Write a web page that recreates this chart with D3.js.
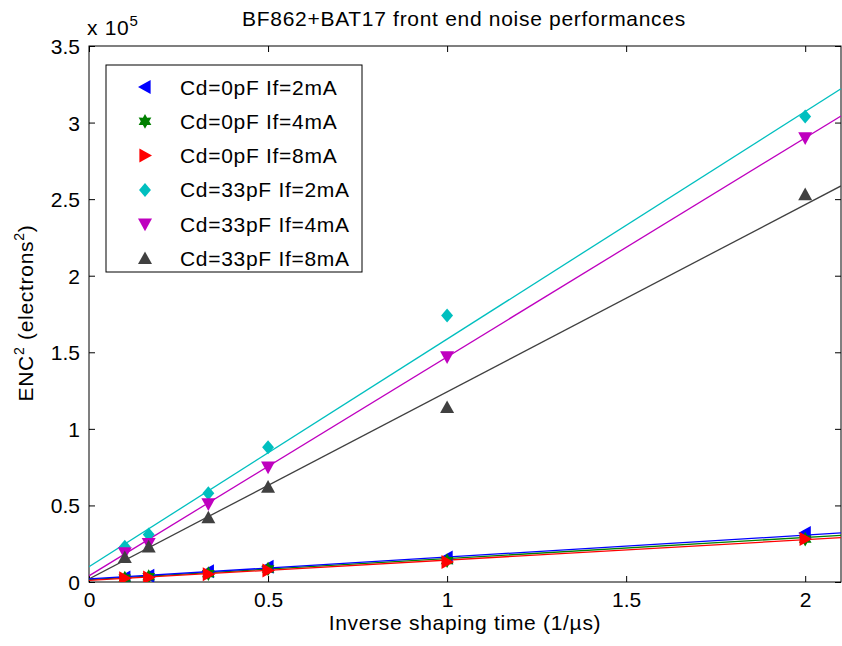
<!DOCTYPE html>
<html><head><meta charset="utf-8">
<script src="https://cdn.jsdelivr.net/npm/d3@7"></script>
<style>body{margin:0;background:#fff}svg{display:block;font-family:"Liberation Sans",Arial,sans-serif}</style>
</head><body><svg id="c" width="842" height="646"></svg>
<script>
const xValues = [0.1, 0.1667, 0.3333, 0.5, 1, 2];
const seriesNames = ["Cd=0pF If=2mA","Cd=0pF If=4mA","Cd=0pF If=8mA","Cd=33pF If=2mA","Cd=33pF If=4mA","Cd=33pF If=8mA"];
const s0pf2mA  = [0.03, 0.04, 0.07, 0.10, 0.16, 0.32];
const s0pf4mA  = [0.025,0.035,0.055,0.085,0.14, 0.28];
const s0pf8mA  = [0.025,0.03, 0.05, 0.075,0.13, 0.28];
const s33pf2mA = [0.23, 0.31, 0.58, 0.88, 1.74, 3.04];
const s33pf4mA = [0.19, 0.25, 0.51, 0.75, 1.47, 2.90];
const s33pf8mA = [0.16, 0.23, 0.42, 0.62, 1.14, 2.53];
const fitIntercepts = [0.02, 0.015, 0.01, 0.10, 0.04, 0.02];
const fitSlopes     = [0.143, 0.138, 0.133, 1.486, 1.43, 1.222];
const colors = ["#0000ff","#008000","#ff0000","#00bfbf","#bf00bf","#404040"];
const markers = ["tleft","hexagram","tright","diamond","tdown","tup"];
const xTicks = [0, 0.5, 1, 1.5, 2];
const yTicks = [0, 0.5, 1, 1.5, 2, 2.5, 3, 3.5];
const series = [s0pf2mA,s0pf4mA,s0pf8mA,s33pf2mA,s33pf4mA,s33pf8mA];

const svg = d3.select("#c");
const L=89, R=841, T=46, B=582;
const x = d3.scaleLinear().domain([0,2.1]).range([L,R]);
const y = d3.scaleLinear().domain([0,3.5]).range([B,T]);
const FS = 21, LS = "0.7px";

function markerPath(type, s){
  const r=s;
  if(type==="tleft") return `M${-r},0L${r*0.8},${-r}L${r*0.8},${r}Z`;
  if(type==="tright") return `M${r},0L${-r*0.8},${-r}L${-r*0.8},${r}Z`;
  if(type==="tup") return `M0,${-r}L${r},${r*0.8}L${-r},${r*0.8}Z`;
  if(type==="tdown") return `M0,${r}L${r},${-r*0.8}L${-r},${-r*0.8}Z`;
  if(type==="diamond") return `M0,${-r*1.0}L${r*0.85},0L0,${r*1.0}L${-r*0.85},0Z`;
  if(type==="hexagram"){
    let p="";
    for(let i=0;i<12;i++){
      const a=-Math.PI/2+i*Math.PI/6, rr=(i%2===0)?r*1.05:r*0.6;
      p+=(i?"L":"M")+(rr*Math.cos(a)).toFixed(2)+","+(rr*Math.sin(a)).toFixed(2);
    }
    return p+"Z";
  }
}

// axes box
svg.append("rect").attr("x",L).attr("y",T).attr("width",R-L).attr("height",B-T)
  .attr("fill","#fff").attr("stroke","#000").attr("stroke-width",1);

const xa = svg.append("g").attr("transform",`translate(0,${B})`)
  .call(d3.axisBottom(x).tickValues(xTicks).tickFormat(d=>d3.format("")(d)).tickSizeInner(-6).tickSizeOuter(0).tickPadding(8));
const xt = svg.append("g").attr("transform",`translate(0,${T})`)
  .call(d3.axisTop(x).tickValues(xTicks).tickFormat("").tickSizeInner(-6).tickSizeOuter(0));
const ya = svg.append("g").attr("transform",`translate(${L},0)`)
  .call(d3.axisLeft(y).tickValues(yTicks).tickFormat(d=>d3.format("")(d)).tickSizeInner(-6).tickSizeOuter(0).tickPadding(9));
const yr = svg.append("g").attr("transform",`translate(${R},0)`)
  .call(d3.axisRight(y).tickValues(yTicks).tickFormat("").tickSizeInner(-6).tickSizeOuter(0));
[xa,xt,ya,yr].forEach(g=>{g.select(".domain").remove();
  g.selectAll("text").attr("font-size",FS).attr("fill","#000").attr("font-family","Liberation Sans, Arial, sans-serif");
  g.selectAll("line").attr("stroke","#000");});
xa.selectAll("text").attr("dy",null).attr("y",null).attr("dominant-baseline",null).attr("transform","translate(0,25)");
ya.selectAll("text").attr("dy","0.36em");

// clip
svg.append("clipPath").attr("id","clp").append("rect").attr("x",L).attr("y",T).attr("width",R-L).attr("height",B-T);
const plot = svg.append("g").attr("clip-path","url(#clp)");

// fit lines
const lineOrder=[3,4,5,1,2,0];
lineOrder.forEach(i=>{
  plot.append("line").attr("x1",x(0)).attr("y1",y(fitIntercepts[i]))
    .attr("x2",x(2.1)).attr("y2",y(fitIntercepts[i]+fitSlopes[i]*2.1))
    .attr("stroke",colors[i]).attr("stroke-width",1.3);
});
// points
series.forEach((vals,i)=>{
  plot.selectAll(null).data(vals).enter().append("path")
    .attr("d",markerPath(markers[i],7))
    .attr("transform",(d,j)=>`translate(${x(xValues[j])},${y(d)})`)
    .attr("fill",colors[i]);
});

// title & labels
svg.append("text").attr("x",464).attr("y",26).attr("text-anchor","middle").attr("font-size",FS).attr("letter-spacing",LS).text("BF862+BAT17 front end noise performances");
const ex = svg.append("text").attr("x",87).attr("y",35).attr("font-size",FS).attr("letter-spacing",LS);
ex.append("tspan").text("x 10");
ex.append("tspan").attr("dy",-9).attr("font-size",15).text("5");
svg.append("text").attr("x",465).attr("y",630).attr("text-anchor","middle").attr("font-size",FS).attr("letter-spacing",LS).text("Inverse shaping time (1/\u00b5s)");
const yl = svg.append("text").attr("transform","translate(33,313) rotate(-90)").attr("text-anchor","middle").attr("font-size",FS).attr("letter-spacing",LS);
yl.append("tspan").text("ENC");
yl.append("tspan").attr("dy",-9).attr("font-size",14).text("2");
yl.append("tspan").attr("dy",9).text(" (electrons");
yl.append("tspan").attr("dy",-9).attr("font-size",14).text("2");
yl.append("tspan").attr("dy",9).text(")");

// legend
const lg = svg.append("g");
lg.append("rect").attr("x",106).attr("y",65).attr("width",256).attr("height",207).attr("fill","#fff").attr("stroke","#000");
seriesNames.forEach((n,i)=>{
  const yy=87+i*34.3;
  lg.append("path").attr("d",markerPath(markers[i],7)).attr("transform",`translate(145,${yy})`).attr("fill",colors[i]);
  lg.append("text").attr("x",180).attr("y",yy+7.5).attr("font-size",FS).attr("letter-spacing",LS).text(n);
});
</script></body></html>
